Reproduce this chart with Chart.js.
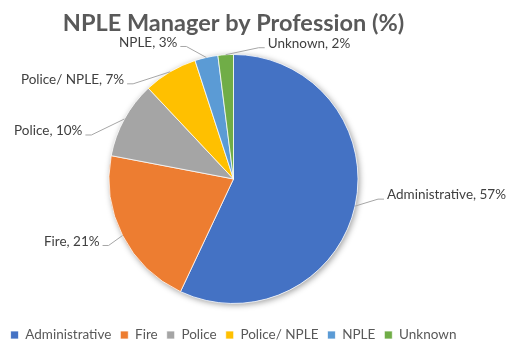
<!DOCTYPE html>
<html>
<head>
<meta charset="utf-8">
<script src="https://cdn.jsdelivr.net/npm/chart.js@4/dist/chart.umd.min.js"></script>
<style>
  html, body { margin: 0; padding: 0; background: #fff; }
  #wrap { width: 514px; height: 351px; }
</style>
</head>
<body>
<div id="wrap"><canvas id="GraficoTorta"></canvas></div>
<script>
// datos
var categorias = ['Administrative', 'Fire', 'Police', 'Police/ NPLE', 'NPLE', 'Unknown'];
var porcentajes = [57, 21, 10, 7, 3, 2];
var titulo = 'NPLE Manager by Profession (%)';

// estilo
var colores = ['#4472C4', '#ED7D31', '#A5A5A5', '#FFC000', '#5B9BD5', '#70AD47'];
// donde va cada etiqueta, relativo al borde de su sector
var desplazamientos = [[32, -11], [-23, 6], [-42, 12], [-46, 8], [-29, -15], [42, -11]];

var sombra = {
  id: 'sombra',
  beforeDatasetsDraw: function(chart) {
    var arc = chart.getDatasetMeta(0).data[0];
    var ctx = chart.ctx;
    ctx.save();
    ctx.shadowColor = 'rgba(0,0,0,0.4)';
    ctx.shadowBlur = 6;
    ctx.shadowOffsetX = 1.5;
    ctx.shadowOffsetY = 1.5;
    ctx.fillStyle = '#fff';
    ctx.beginPath();
    ctx.arc(arc.x, arc.y, arc.outerRadius, 0, Math.PI * 2);
    ctx.fill();
    ctx.restore();
  }
};

var etiquetas = {
  id: 'etiquetas',
  afterDatasetsDraw: function(chart) {
    var ctx = chart.ctx;
    var meta = chart.getDatasetMeta(0);
    ctx.save();
    ctx.font = '13.5px Lato';
    ctx.fillStyle = '#404040';
    ctx.strokeStyle = '#A6A6A6';
    ctx.lineWidth = 1;
    ctx.textBaseline = 'middle';
    meta.data.forEach(function(arc, i) {
      var p = arc.getProps(['x', 'y', 'startAngle', 'endAngle', 'outerRadius'], true);
      var mid = (p.startAngle + p.endAngle) / 2;
      var ex = p.x + Math.cos(mid) * p.outerRadius;
      var ey = p.y + Math.sin(mid) * p.outerRadius;
      var d = desplazamientos[i];
      var lado = d[0] > 0 ? 1 : -1;
      var tx = ex + d[0], ty = ey + d[1];
      ctx.beginPath();
      ctx.moveTo(ex, ey);
      ctx.lineTo(tx - lado * 9, ty + 4);
      ctx.lineTo(tx - lado * 3, ty + 4);
      ctx.stroke();
      ctx.textAlign = lado > 0 ? 'left' : 'right';
      ctx.fillText(categorias[i] + ', ' + porcentajes[i] + '%', tx, ty);
    });
    ctx.restore();
  }
};

var ctx1 = document.getElementById('GraficoTorta').getContext('2d');
var GraficoTorta = new Chart(ctx1, {
  type: 'pie',
  data: {
    labels: categorias,
    datasets: [{
      data: porcentajes,
      backgroundColor: colores,
      borderColor: '#ffffff',
      borderWidth: 0.75
    }]
  },
  options: {
    responsive: true,
    maintainAspectRatio: false,
    animation: false,
    radius: 124.5,
    layout: { padding: { left: 0, right: 47, top: 0, bottom: -0.75 } },
    plugins: {
      title: {
        display: true,
        text: titulo,
        color: '#595959',
        font: { family: 'Lato', size: 23.5, weight: 'bold' },
        padding: { top: 9, bottom: 1.5 }
      },
      legend: {
        position: 'bottom',
        labels: {
          boxWidth: 8,
          boxHeight: 8,
          padding: 9,
          color: '#595959',
          font: { family: 'Lato', size: 13.5 }
        }
      },
      tooltip: { enabled: false }
    }
  },
  plugins: [sombra, etiquetas]
});
</script>
</body>
</html>
